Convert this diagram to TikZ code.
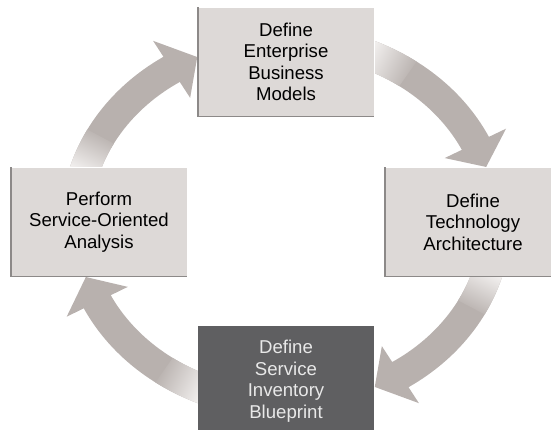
\documentclass[tikz,border=0pt]{standalone}
\usepackage{fontspec}
\setmainfont{Liberation Sans}
\usepackage{tikz}
\definecolor{arrowGray}{RGB}{184,177,174}
\definecolor{arrowLight}{RGB}{247,245,244}
\definecolor{boxFill}{RGB}{221,217,215}
\definecolor{boxEdge}{RGB}{140,137,136}
\definecolor{boxDark}{RGB}{95,95,97}
\definecolor{boxDarkText}{RGB}{232,232,232}

\begin{document}
\begin{tikzpicture}[x=1pt, y=1pt,
    phase/.style={fill=boxFill, minimum width=176pt, minimum height=109pt,
      inner sep=0pt, align=center, font=\fontsize{18.6}{21.5}\selectfont},
    keyphase/.style={phase, fill=boxDark, text=boxDarkText}]
      \useasboundingbox (0,0) rectangle (551,430);

      % cycle arrows: start, head base, tip, fade start, fade end, fade angle
      \begin{scope}[shift={(286,208)}]
        \foreach \st/\hb/\tp/\fa/\fb/\fang in {168/123/115/165/152/-26,
            69/25.6/17.6/67.5/54.5/-117, -14/-57/-65/-15/-28/154,
            -111/-154/-162.4/-112.5/-125.5/63} {
          \fill[arrowGray] plot[domain=\st:\hb, samples=30] ({225*cos(\x)},{197*sin(\x)})
            -- ({244*cos(\hb)},{216*sin(\hb)}) -- ({210*cos(\tp)},{182*sin(\tp)})
            -- ({176*cos(\hb)},{148*sin(\hb)})
            -- plot[domain=\hb:\st, samples=30] ({195*cos(\x)},{167*sin(\x)}) -- cycle;
          \shade[bottom color=arrowLight, top color=arrowGray, shading angle=\fang]
            plot[domain=\fa:\fb, samples=10] ({225*cos(\x)},{197*sin(\x)})
            -- plot[domain=\fb:\fa, samples=10] ({195*cos(\x)},{167*sin(\x)}) -- cycle;
        }
      \end{scope}

      % phases
      \node[phase] (ebm) at (286,368) {Define\\Enterprise\\Business\\Models};
      \node[phase] (tech) at (473,208) {Define\\Technology\\Architecture};
      \node[keyphase] (inv) at (286,49) {Define\\Service\\Inventory\\Blueprint};
      \node[phase] (soa) at (99,208) {Perform\\Service-Oriented\\Analysis};

      % bevelled edges
      \foreach \n in {ebm, tech, soa} {
        \draw[white, line width=1pt] (\n.south east) -- (\n.north east) -- (\n.north west);
        \draw[boxEdge, line width=1.6pt] (\n.north west) -- (\n.south west) -- (\n.south east);
      }
    \end{tikzpicture}
\end{document}
